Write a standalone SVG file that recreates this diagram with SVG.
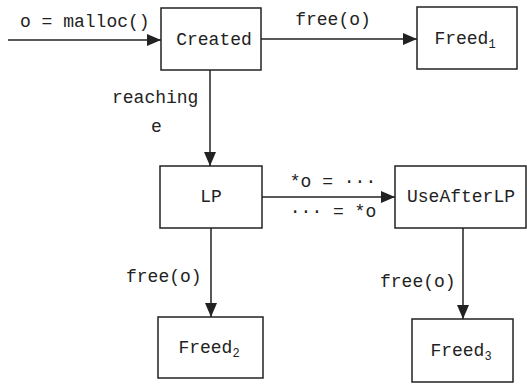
<svg xmlns="http://www.w3.org/2000/svg" width="527" height="384" viewBox="0 0 527 384">
<style>
.box{fill:#fff;stroke:#222;stroke-width:1.5}
.t{font-family:"Liberation Mono","DejaVu Sans Mono",monospace;font-size:18px;fill:#222}
.c{text-anchor:middle}
.e{stroke:#222;stroke-width:1.5;fill:none;marker-end:url(#ah)}
</style>
<defs>
<marker id="ah" viewBox="0 0 14 12" refX="14" refY="6" markerWidth="14" markerHeight="12" markerUnits="userSpaceOnUse" orient="auto">
<path d="M0,0 L14,6 L0,12 z" fill="#222"/>
</marker>
</defs>
<g id="connectors">
<path class="e" d="M8,40 H161"/>
<text class="t" x="20" y="27">o = malloc()</text>
<path class="e" d="M261,39 H417"/>
<text class="t c" x="333" y="25">free(o)</text>
<path class="e" d="M210,70 V166"/>
<text class="t" x="112" y="103">reaching</text>
<text class="t" x="151" y="132">e</text>
<path class="e" d="M262,197 H395"/>
<text class="t c" x="333" y="187">*o = ···</text>
<text class="t c" x="333" y="217">··· = *o</text>
<path class="e" d="M211,228 V317"/>
<text class="t" x="126" y="282">free(o)</text>
<path class="e" d="M463,228 V319"/>
<text class="t" x="380" y="287">free(o)</text>
</g>
<g id="created"><rect class="box" x="161" y="8" width="100" height="62"/><text class="t c" x="214" y="45">Created</text></g>
<g id="freed1"><rect class="box" x="417" y="7" width="100" height="62"/><text class="t c" x="465" y="44">Freed<tspan font-size="12" dy="4">1</tspan></text></g>
<g id="lp"><rect class="box" x="160" y="166" width="102" height="62"/><text class="t c" x="211" y="202">LP</text></g>
<g id="useafterlp"><rect class="box" x="395" y="166" width="131" height="62"/><text class="t c" x="461" y="202">UseAfterLP</text></g>
<g id="freed2"><rect class="box" x="158" y="317" width="105" height="61"/><text class="t c" x="209" y="353">Freed<tspan font-size="12" dy="4">2</tspan></text></g>
<g id="freed3"><rect class="box" x="412" y="319" width="101" height="63"/><text class="t c" x="461" y="356">Freed<tspan font-size="12" dy="4">3</tspan></text></g>
</svg>
